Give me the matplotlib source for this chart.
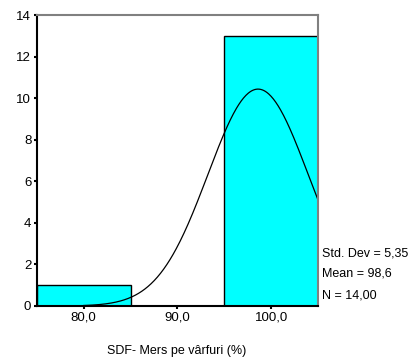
import numpy as np
import matplotlib.pyplot as plt

plt.rcParams['font.family'] = ['Liberation Sans', 'DejaVu Sans']

# histogram data
bin_edges = [75, 85, 95, 105]
counts = [1, 0, 13]
x_ticks = [80, 90, 100]
x_tick_labels = ["80,0", "90,0", "100,0"]
y_ticks = [0, 2, 4, 6, 8, 10, 12, 14]

std_dev = 5.35
mean = 98.6
n = 14
stats_lines = ["Std. Dev = 5,35", "Mean = 98,6", "N = 14,00"]

fig = plt.figure(figsize=(4.19, 3.6), dpi=100)
ax = fig.add_axes([0.088, 0.15, 0.671, 0.808])

widths = np.diff(bin_edges)
ax.bar(bin_edges[:-1], counts, width=widths, align='edge',
       color='#00ffff', edgecolor='black', linewidth=1.0)

# normal curve scaled to counts
xs = np.linspace(80, 105, 300)
bw = widths[0]
ys = n * bw / (std_dev * np.sqrt(2 * np.pi)) * np.exp(-0.5 * ((xs - mean) / std_dev) ** 2)
ax.plot(xs, ys, color='black', linewidth=0.9)

ax.set_xlim(75, 105)
ax.set_ylim(0, 14)
ax.set_xticks(x_ticks)
ax.set_xticklabels(x_tick_labels)
ax.set_yticks(y_ticks)
ax.tick_params(axis='both', direction='out', length=2, width=1.5, labelsize=9.5, pad=2)

ax.spines['left'].set_linewidth(1.5)
ax.spines['bottom'].set_linewidth(1.5)
ax.spines['top'].set_color('#808080')
ax.spines['right'].set_color('#808080')
ax.spines['top'].set_linewidth(1.5)
ax.spines['right'].set_linewidth(1.5)

fig.text(177 / 419, 1 - 351 / 360, "SDF- Mers pe vârfuri (%)", fontsize=9,
         ha='center', va='center')

for i, line in enumerate(stats_lines):
    fig.text(322 / 419, 1 - (253 + 21 * i) / 360, line, fontsize=9,
             ha='left', va='center')

fig.savefig("out.png", dpi=100)
